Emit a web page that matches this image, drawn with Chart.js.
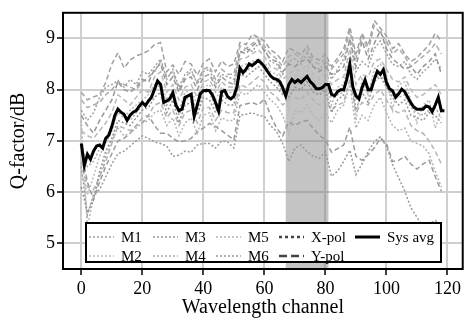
<!DOCTYPE html>
<html>
<head>
<meta charset="utf-8">
<script src="https://cdn.jsdelivr.net/npm/chart.js@4.4.1/dist/chart.umd.min.js"></script>
<style>
  body { margin: 0; background: #fff; }
  #wrap { width: 464px; height: 320px; }
</style>
</head>
<body>
<div id="wrap"><canvas id="qChart" width="464" height="320"></canvas></div>
<script>
  // channels
  var avgCh = [0,1,2,3,4,5,6,7,8,9,10,11,12,13,14,15,16,17,18,19,
    20,21,22,23,24,25,26,27,28,29,30,31,32,33,34,35,36,37,38,39,
    40,41,42,43,44,45,46,47,48,49,50,51,52,53,54,55,56,57,58,59,
    60,61,62,63,64,65,66,67,68,69,70,71,72,73,74,75,76,77,78,79,
    80,81,82,83,84,85,86,87,88,89,90,91,92,93,94,95,96,97,98,99,
    100,101,102,103,104,105,106,107,108,109,110,111,112,113,114,115,116,117,118,119];
  var grayCh = [0,2,4,6,8,10,12,14,16,18,20,22,24,26,28,30,32,34,36,38,
    40,42,44,46,48,50,52,54,56,58,60,62,64,66,68,70,72,74,76,78,
    80,82,84,86,88,90,92,94,96,98,100,102,104,106,108,110,112,114,116,118];
  var xTicks = [0, 20, 40, 60, 80, 100, 120];
  var yTicks = [5, 6, 7, 8, 9];

  var sysAvg = [6.95,6.52,6.74,6.64,6.80,6.90,6.92,6.86,7.05,7.11,
    7.28,7.50,7.62,7.56,7.52,7.40,7.50,7.56,7.59,7.68,
    7.75,7.69,7.78,7.85,8.01,8.17,8.10,7.75,7.78,7.82,
    7.94,7.70,7.59,7.62,7.85,7.88,7.91,7.48,7.70,7.92,
    7.98,7.99,7.98,7.89,7.75,7.58,7.96,7.98,7.86,7.82,
    7.87,8.05,8.42,8.33,8.40,8.50,8.47,8.52,8.57,8.52,
    8.45,8.36,8.27,8.22,8.20,8.16,8.04,7.88,8.10,8.20,
    8.14,8.19,8.14,8.20,8.26,8.16,8.10,8.02,8.02,8.04,
    8.10,8.10,7.91,7.88,7.96,8.00,8.00,8.20,8.49,8.05,
    7.88,7.82,8.04,8.19,8.00,8.00,8.20,8.36,8.30,8.39,
    8.14,8.02,7.98,7.85,7.92,8.01,7.96,7.85,7.74,7.66,
    7.62,7.62,7.62,7.68,7.66,7.57,7.70,7.85,7.59,7.59];

  var m1YPol = [7.95,7.80,7.86,7.90,8.14,8.50,8.72,8.42,8.58,8.66,
    8.70,8.76,8.88,8.92,8.35,8.48,8.30,8.55,8.50,8.28,
    8.52,8.60,8.35,8.56,8.45,8.50,8.92,8.88,9.08,9.02,
    8.95,8.78,8.70,8.55,8.82,8.75,8.68,8.85,8.62,8.58,
    8.70,8.45,8.62,8.80,9.22,8.70,9.10,8.85,9.35,9.20,
    9.05,8.80,8.90,8.70,8.55,8.62,8.75,8.88,9.10,8.95];
  var m1XPol = [7.60,7.40,7.55,7.85,8.05,8.10,8.18,8.05,8.20,8.10,
    8.35,8.30,8.45,8.60,8.20,8.40,8.05,8.30,8.40,8.10,
    8.35,8.40,8.10,8.30,8.25,8.20,8.70,8.80,8.75,8.90,
    8.80,8.55,8.50,8.30,8.55,8.60,8.50,8.70,8.45,8.40,
    8.55,8.20,8.40,8.60,8.95,8.35,8.55,8.45,8.80,8.95,
    8.70,8.50,8.45,8.55,8.30,8.20,8.35,8.45,8.60,8.40];
  var m2YPol = [7.20,7.10,7.05,7.20,7.35,7.55,7.90,7.80,7.70,7.85,
    8.00,7.95,8.25,8.35,7.95,8.10,7.80,8.05,8.10,7.85,
    8.15,8.20,7.95,8.15,8.05,8.05,8.60,8.62,8.70,8.78,
    8.65,8.45,8.40,8.20,8.30,8.40,8.35,8.50,8.30,8.20,
    8.35,8.10,8.20,8.25,8.80,8.10,8.30,8.25,8.55,8.60,
    8.40,8.20,8.15,8.25,8.00,7.85,7.90,8.00,8.10,7.90];
  var m2XPol = [6.40,5.95,6.30,6.70,7.00,7.30,7.55,7.45,7.60,7.70,
    7.80,7.90,8.10,8.15,7.80,8.00,7.60,7.95,8.00,7.70,
    8.05,8.10,7.80,8.05,7.95,7.95,8.45,8.50,8.55,8.60,
    8.55,8.35,8.30,8.10,7.60,8.30,8.25,8.40,8.20,8.10,
    8.20,7.70,8.05,8.10,8.65,7.40,8.20,7.90,8.40,8.50,
    8.30,7.60,8.10,8.15,7.80,7.35,7.70,7.80,7.25,7.60];
  var m3YPol = [7.50,7.30,7.15,7.40,7.60,7.80,8.15,8.00,7.95,8.05,
    8.20,8.15,8.40,8.50,8.10,8.25,7.95,8.20,8.25,8.00,
    8.25,8.30,8.05,8.25,8.15,8.10,8.75,8.70,8.85,8.95,
    8.75,8.60,8.55,8.35,8.50,8.45,8.55,8.60,8.45,8.35,
    8.45,8.30,8.35,8.45,9.00,8.45,8.95,8.60,8.90,9.15,
    8.80,8.60,8.50,8.40,8.45,8.30,8.45,8.55,8.70,8.30];
  var m3XPol = [6.10,5.60,5.85,6.40,6.80,7.05,7.40,7.35,7.30,7.45,
    7.60,7.65,7.85,7.95,7.55,7.80,7.35,7.70,7.75,7.50,
    7.85,7.80,7.55,7.80,7.70,7.70,8.30,8.25,8.35,8.45,
    8.30,8.15,8.05,7.90,7.85,8.05,8.00,8.15,7.95,7.90,
    8.00,7.55,7.80,7.90,8.50,7.60,7.95,7.75,8.15,8.25,
    8.05,7.85,7.70,7.80,7.50,7.45,7.40,7.55,7.50,7.35];
  var m4YPol = [7.80,7.65,7.70,7.75,7.90,8.00,8.15,8.10,8.05,8.00,
    8.15,8.25,8.35,8.55,8.25,8.35,8.00,8.25,8.35,8.15,
    8.40,8.45,8.20,8.40,8.30,8.30,8.85,8.80,8.90,8.98,
    8.85,8.70,8.60,8.45,8.65,8.70,8.60,8.75,8.55,8.50,
    8.60,8.40,8.55,8.70,9.15,8.60,9.05,8.75,9.25,9.10,
    8.95,8.70,8.80,8.65,8.45,8.55,8.65,8.75,8.90,8.70];
  var m4XPol = [6.90,6.50,6.60,6.85,6.95,7.20,7.60,7.50,7.40,7.55,
    7.70,7.75,8.00,8.10,7.70,7.90,7.50,7.80,7.85,7.60,
    7.95,7.95,7.65,7.90,7.80,7.85,8.40,8.35,8.45,8.55,
    8.40,8.25,8.15,7.95,8.10,8.15,8.10,8.25,8.05,8.00,
    8.10,7.85,7.90,7.95,8.45,7.80,8.00,7.95,8.20,8.30,
    8.10,7.90,7.85,7.90,7.65,7.55,7.50,7.60,7.65,7.45];
  var m5YPol = [6.60,6.10,6.05,6.30,6.60,6.95,7.30,7.25,7.20,7.30,
    7.45,7.50,7.70,7.75,7.45,7.60,7.30,7.55,7.60,7.35,
    7.65,7.65,7.40,7.60,7.55,7.55,8.10,8.05,8.15,8.25,
    8.15,7.95,7.85,7.70,7.80,7.85,7.80,7.95,7.80,7.70,
    7.80,7.60,7.70,7.75,8.20,7.55,7.75,7.70,7.90,8.00,
    7.80,7.60,7.55,7.60,7.30,7.20,7.15,7.00,6.80,6.55];
  var m5XPol = [7.40,5.30,5.90,6.30,6.70,7.00,7.25,7.10,7.15,7.25,
    7.35,7.40,7.55,7.60,7.30,7.45,7.10,7.35,7.45,7.15,
    7.50,7.55,7.20,7.45,7.40,7.40,7.95,7.90,8.00,8.10,
    7.95,7.80,7.70,7.50,7.15,7.60,7.55,7.70,7.50,7.40,
    7.55,7.35,7.60,7.70,8.10,7.25,7.50,7.40,7.70,7.85,
    7.55,7.30,7.20,7.25,7.00,6.95,6.90,6.75,6.40,6.10];
  var m6YPol = [6.80,6.20,5.85,6.20,6.50,6.75,7.00,7.05,7.15,7.30,
    7.35,7.50,7.30,7.15,7.15,7.05,6.98,7.00,7.05,7.18,
    7.25,7.34,7.28,7.20,7.11,7.02,7.69,7.72,7.75,7.70,
    7.82,7.50,7.25,7.10,7.37,7.30,7.37,7.40,7.24,7.11,
    7.02,6.78,6.85,6.92,7.27,6.70,6.62,6.73,6.86,7.05,
    6.95,6.60,6.62,6.70,6.55,6.45,6.55,6.62,6.30,6.02];
  var m6XPol = [6.50,5.55,5.95,6.05,6.30,6.55,6.75,6.80,6.90,7.00,
    7.10,7.05,6.98,6.95,6.90,6.70,6.72,6.80,6.78,6.92,
    6.95,6.95,6.86,7.00,6.98,6.86,7.50,7.52,7.55,7.50,
    7.48,7.30,7.18,6.95,6.60,6.86,6.92,6.79,6.70,6.66,
    6.79,6.31,6.41,6.60,6.82,6.34,6.55,6.79,6.98,7.08,
    6.89,6.54,6.28,6.02,5.70,5.51,5.32,5.38,5.45,5.35];

  var shadeFrom = 67, shadeTo = 81;
  var mNames = ['M1','M2','M3','M4','M5','M6'];
  var mColors = ['#a0a0a0','#bababa','#969696','#acacac','#b4b4b4','#9a9a9a'];
  var xPolSets = [m1XPol, m2XPol, m3XPol, m4XPol, m5XPol, m6XPol];
  var yPolSets = [m1YPol, m2YPol, m3YPol, m4YPol, m5YPol, m6YPol];

  var serif = "'Liberation Serif', 'DejaVu Serif', serif";
  Chart.defaults.font.family = serif;
  Chart.defaults.color = '#000';

  function pts(xs, ys) {
    return ys.map(function (v, i) { return {x: xs[i], y: v}; });
  }

  var datasets = [{
    label: 'Sys avg',
    data: pts(avgCh, sysAvg),
    borderColor: '#000',
    borderWidth: 3,
    pointRadius: 0
  }];
  for (var i = 0; i < 6; i++) {
    datasets.push({
      label: mNames[i] + ' X-pol', data: pts(grayCh, xPolSets[i]),
      borderColor: mColors[i], borderWidth: 1.5, borderDash: [2, 2], pointRadius: 0
    });
    datasets.push({
      label: mNames[i] + ' Y-pol', data: pts(grayCh, yPolSets[i]),
      borderColor: mColors[i], borderWidth: 1.5, borderDash: [5, 3], pointRadius: 0
    });
  }

  var shadePlugin = {
    id: 'shade',
    beforeDatasetsDraw: function (chart) {
      var ctx = chart.ctx, a = chart.chartArea, xs = chart.scales.x;
      var x0 = xs.getPixelForValue(shadeFrom), x1 = xs.getPixelForValue(shadeTo);
      ctx.save();
      ctx.fillStyle = 'rgba(125,125,125,0.45)';
      ctx.fillRect(x0, a.top, x1 - x0, a.bottom - a.top);
      ctx.restore();
    }
  };

  var legendItems = [
    {text: 'M1', col: 0, row: 0, color: mColors[0], dash: [2, 2], w: 1.5},
    {text: 'M2', col: 0, row: 1, color: mColors[1], dash: [2, 2], w: 1.5},
    {text: 'M3', col: 1, row: 0, color: mColors[2], dash: [2, 2], w: 1.5},
    {text: 'M4', col: 1, row: 1, color: mColors[3], dash: [2, 2], w: 1.5},
    {text: 'M5', col: 2, row: 0, color: mColors[4], dash: [2, 2], w: 1.5},
    {text: 'M6', col: 2, row: 1, color: mColors[5], dash: [2, 2], w: 1.5},
    {text: 'X-pol', col: 3, row: 0, color: '#444', dash: [3, 3], w: 2.5},
    {text: 'Y-pol', col: 3, row: 1, color: '#444', dash: [8, 4], w: 2.5},
    {text: 'Sys avg', col: 4, row: 0, color: '#000', dash: [], w: 3}
  ];
  var colX = [89, 153, 216, 279, 355];
  var rowY = [237, 256];

  var framePlugin = {
    id: 'frameLegend',
    afterDraw: function (chart) {
      var ctx = chart.ctx, a = chart.chartArea;
      ctx.save();
      ctx.strokeStyle = '#000';
      ctx.lineWidth = 2;
      ctx.strokeRect(a.left, a.top, a.right - a.left, a.bottom - a.top);

      ctx.fillStyle = '#fff';
      ctx.fillRect(86, 223, 355, 39);
      ctx.lineWidth = 2;
      ctx.strokeRect(86, 223, 355, 39);
      ctx.font = '15px ' + serif;
      ctx.textBaseline = 'middle';
      legendItems.forEach(function (it) {
        var x = colX[it.col], y = rowY[it.row];
        ctx.beginPath();
        ctx.setLineDash(it.dash);
        ctx.strokeStyle = it.color;
        ctx.lineWidth = it.w;
        ctx.moveTo(x, y);
        ctx.lineTo(x + 25, y);
        ctx.stroke();
        ctx.setLineDash([]);
        ctx.fillStyle = '#000';
        ctx.fillText(it.text, x + 32, y + 1);
      });
      ctx.restore();
    }
  };

  function fixTicks(list) {
    return function (scale) {
      scale.ticks = list.map(function (v) { return {value: v}; });
    };
  }

  new Chart('qChart', {
    type: 'line',
    data: {datasets: datasets},
    options: {
      responsive: false,
      animation: false,
      devicePixelRatio: 1,
      layout: {padding: {top: 8, right: 1, left: 0, bottom: 0}},
      plugins: {legend: {display: false}, tooltip: {enabled: false}},
      elements: {line: {tension: 0}},
      scales: {
        x: {
          type: 'linear', min: -6, max: 125,
          border: {display: false},
          grid: {color: '#cfcfcf', lineWidth: 2, tickLength: 6, tickColor: '#000', tickWidth: 1.5},
          ticks: {padding: 3, font: {size: 18}, maxRotation: 0},
          afterBuildTicks: fixTicks(xTicks),
          title: {display: true, text: 'Wavelength channel', font: {size: 20}, padding: {top: 0, bottom: 0}},
          afterFit: function (s) { s.height = 51; }
        },
        y: {
          min: 4.5, max: 9.5,
          border: {display: false},
          grid: {color: '#cfcfcf', lineWidth: 2, tickLength: 6, tickColor: '#000', tickWidth: 1.5},
          ticks: {padding: 2, font: {size: 18}},
          afterBuildTicks: fixTicks(yTicks),
          title: {display: true, text: 'Q-factor/dB', font: {size: 20}, padding: {top: 7, bottom: 0}},
          afterFit: function (s) { s.width = 63; }
        }
      }
    },
    plugins: [shadePlugin, framePlugin]
  });
</script>
</body>
</html>
